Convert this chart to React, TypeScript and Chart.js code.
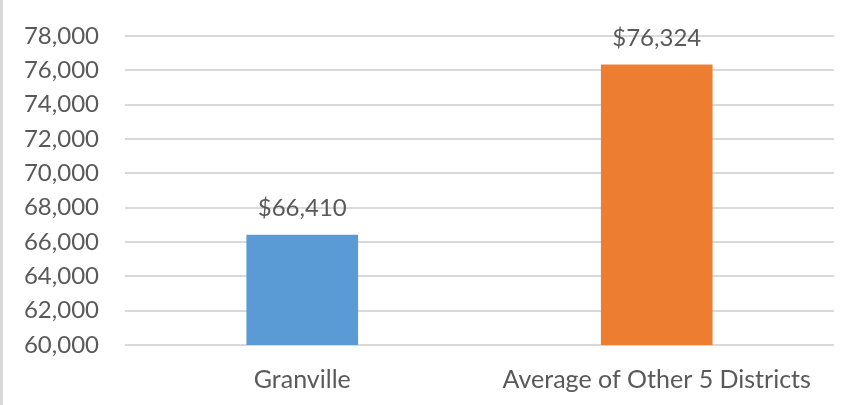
import React, { useEffect, useRef } from "react";
import { Chart, registerables } from "chart.js";

Chart.register(...registerables);

const categories = ["Granville", "Average of Other 5 Districts"];
const values = [66410, 76324];
const barColors = ["#5B9BD5", "#ED7D31"];
const valueLabels = ["$66,410", "$76,324"];
const yMin = 60000;
const yMax = 78000;
const yStep = 2000;

const FONT = "Lato, 'Open Sans', sans-serif";
const TEXT = "#595959";

const dataLabelPlugin = {
  id: "dataLabels",
  afterDatasetsDraw(chart: any) {
    const ctx = chart.ctx;
    const meta = chart.getDatasetMeta(0);
    ctx.save();
    ctx.font = `24px ${FONT}`;
    ctx.fillStyle = TEXT;
    ctx.textAlign = "center";
    ctx.textBaseline = "middle";
    meta.data.forEach((bar: any, i: number) => {
      ctx.fillText(valueLabels[i], bar.x, bar.y - 27);
    });
    ctx.restore();
  },
};

export default function App() {
  const ref = useRef<HTMLCanvasElement | null>(null);
  useEffect(() => {
    if (!ref.current) return;
    const chart = new Chart(ref.current, {
      type: "bar",
      data: {
        labels: categories,
        datasets: [
          {
            data: values,
            backgroundColor: barColors,
            barThickness: 111,
          },
        ],
      },
      options: {
        animation: false,
        responsive: false,
        maintainAspectRatio: false,
        layout: { padding: { top: 0, right: 10, bottom: 0, left: 0 } },
        plugins: {
          legend: { display: false },
          tooltip: { enabled: false },
        },
        scales: {
          x: {
            grid: { display: false, drawTicks: false },
            border: { display: false },
            ticks: {
              color: TEXT,
              font: { family: FONT, size: 25 },
              padding: 20,
            },
            afterFit(scale: any) {
              scale.height = 60;
            },
          },
          y: {
            min: yMin,
            max: yMax,
            border: { display: false },
            grid: { color: "#D9D9D9", lineWidth: 2, drawTicks: false },
            ticks: {
              stepSize: yStep,
              color: TEXT,
              font: { family: FONT, size: 24, lineHeight: 0.6 },
              padding: 26,
              callback: (v: any) => Number(v).toLocaleString("en-US"),
            },
            afterFit(scale: any) {
              scale.width = 125;
              scale.paddingTop = 0;
            },
          },
        },
      },
      plugins: [
        dataLabelPlugin,
        {
          id: "fixArea",
          beforeLayout(chart: any) {
            chart.options.layout.padding.top = 36;
          },
        } as any,
      ],
    });
    return () => chart.destroy();
  }, []);
  return (
    <div style={{ position: "fixed", left: 0, top: 0, width: 844, height: 405, background: "#fff" }}>
      <canvas ref={ref} width={844} height={405} style={{ position: "absolute", left: 0, top: 0 }} />
      <div style={{ position: "absolute", left: 0, top: 0, width: 3, height: 405, background: "#D9D9D9" }} />
    </div>
  );
}
